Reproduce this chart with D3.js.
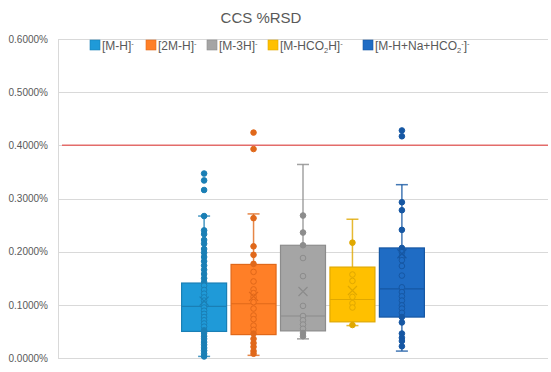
<!DOCTYPE html>
<html>
<head>
<meta charset="utf-8">
<script src="https://cdn.jsdelivr.net/npm/d3@7"></script>
<style>
  body { margin: 0; background: #fff; }
  svg text { font-family: "Liberation Sans", Arial, sans-serif; fill: #595959; }
</style>
</head>
<body>
<div id="vis"></div>
<script>
(function(){
  // values are in percent (0.1 = 0.1000%)
  var categories = ["1"];
  var seriesNames = ["M-H", "2M-H", "M-3H", "M-HCO2H", "M-H+Na+HCO2"];
  var colors = ["#1f9ad8", "#ff7f27", "#a5a5a5", "#ffc000", "#1f6cc4"];
  var strokes = ["#1a7fb5", "#e0681a", "#8c8c8c", "#e0a800", "#1657a3"];

  var mins    = [0.003, 0.005, 0.036, 0.061, 0.013];
  var q1s     = [0.050, 0.044, 0.051, 0.068, 0.077];
  var medians = [0.097, 0.102, 0.079, 0.110, 0.130];
  var q3s     = [0.141, 0.176, 0.212, 0.171, 0.207];
  var maxs    = [0.267, 0.271, 0.364, 0.261, 0.326];
  var means   = [0.107, 0.116, 0.125, 0.127, 0.196];

  var pointsMH = [0.347, 0.334, 0.316, 0.267, 0.240, 0.233, 0.222, 0.215, 0.205, 0.198,
    0.190, 0.182, 0.174, 0.166, 0.158, 0.150, 0.143, 0.136, 0.128, 0.121, 0.114, 0.108,
    0.101, 0.095, 0.089, 0.083, 0.077, 0.071, 0.065, 0.059, 0.052, 0.047, 0.041, 0.036,
    0.030, 0.025, 0.019, 0.014, 0.008, 0.003];
  var points2MH = [0.424, 0.393, 0.263, 0.210, 0.194, 0.177, 0.162, 0.144, 0.129, 0.122,
    0.115, 0.105, 0.093, 0.080, 0.073, 0.061, 0.053, 0.046, 0.036, 0.028, 0.021, 0.013, 0.008];
  var pointsM3H = [0.268, 0.236, 0.212, 0.188, 0.154, 0.098, 0.079, 0.071, 0.063, 0.055,
    0.047, 0.041];
  var pointsHCO2H = [0.217, 0.157, 0.145, 0.115, 0.103, 0.095, 0.062];
  var pointsNa = [0.428, 0.417, 0.293, 0.278, 0.241, 0.207, 0.199, 0.191, 0.184, 0.173,
    0.155, 0.133, 0.124, 0.116, 0.108, 0.099, 0.093, 0.085, 0.077, 0.067, 0.046, 0.038,
    0.032, 0.022];
  var allPoints = [pointsMH, points2MH, pointsM3H, pointsHCO2H, pointsNa];

  var yTicks = [0, 0.1, 0.2, 0.3, 0.4, 0.5, 0.6];
  var limitValue = 0.4;
  var title = "CCS %RSD";

  var width = 551, height = 372;
  var margin = { top: 39, left: 58, bottom: 14, right: 3 };

  var svg = d3.select("#vis").append("svg")
    .attr("width", width)
    .attr("height", height);

  var plotW = width - margin.left - margin.right;
  var plotH = height - margin.top - margin.bottom;

  var g = svg.append("g")
    .attr("transform", "translate(" + margin.left + "," + margin.top + ")");

  var y = d3.scaleLinear().domain([0, 0.6]).range([plotH, 0]);
  var x0 = d3.scaleBand().domain(categories).range([0, plotW]);
  var x1 = d3.scaleBand().domain(seriesNames)
    .range([x0(categories[0]), x0(categories[0]) + x0.bandwidth()])
    .paddingInner(0.09).paddingOuter(2.5);

  // gridlines
  g.append("g").selectAll("line").data(yTicks).enter().append("line")
    .attr("x1", 0).attr("x2", plotW)
    .attr("y1", function(d){ return Math.round(y(d)) + 0.5; })
    .attr("y2", function(d){ return Math.round(y(d)) + 0.5; })
    .attr("stroke", "#d9d9d9").attr("stroke-width", 1);

  g.append("line")
    .attr("x1", 0.5).attr("x2", 0.5).attr("y1", 0).attr("y2", plotH)
    .attr("stroke", "#d9d9d9");

  var yAxis = d3.axisLeft(y).tickValues(yTicks).tickSize(0).tickPadding(10)
    .tickFormat(function(d){ return d.toFixed(4) + "%"; });
  var ya = g.append("g").attr("class", "y axis").call(yAxis);
  ya.select(".domain").remove();
  ya.selectAll("text")
    .style("font-family", "'Liberation Sans Narrow', 'Liberation Sans', sans-serif")
    .style("font-size", "10px").attr("fill", "#595959");

  // limit line
  g.append("line")
    .attr("x1", 4).attr("x2", plotW)
    .attr("y1", y(limitValue)).attr("y2", y(limitValue))
    .attr("stroke", "#e36c6a").attr("stroke-width", 1.5);

  var capW = 12;
  seriesNames.forEach(function(s, i){
    var bx = x1(s), bw = x1.bandwidth(), cx = bx + bw / 2;
    var sg = g.append("g").attr("class", "series");

    // whiskers
    sg.append("line").attr("x1", cx).attr("x2", cx)
      .attr("y1", y(q3s[i])).attr("y2", y(maxs[i]))
      .attr("stroke", strokes[i]).attr("stroke-width", 1.5).attr("opacity", 0.8);
    sg.append("line").attr("x1", cx).attr("x2", cx)
      .attr("y1", y(q1s[i])).attr("y2", y(mins[i]))
      .attr("stroke", strokes[i]).attr("stroke-width", 1.5).attr("opacity", 0.8);
    [mins[i], maxs[i]].forEach(function(v){
      sg.append("line").attr("x1", cx - capW / 2).attr("x2", cx + capW / 2)
        .attr("y1", y(v)).attr("y2", y(v))
        .attr("stroke", strokes[i]).attr("stroke-width", 1.5).attr("opacity", 0.8);
    });

    // box
    sg.append("rect")
      .attr("x", bx).attr("width", bw)
      .attr("y", y(q3s[i])).attr("height", y(q1s[i]) - y(q3s[i]))
      .attr("fill", colors[i]).attr("stroke", strokes[i]).attr("stroke-width", 1.2);
    sg.append("line").attr("x1", bx).attr("x2", bx + bw)
      .attr("y1", y(medians[i])).attr("y2", y(medians[i]))
      .attr("stroke", strokes[i]).attr("stroke-width", 1.2);

    // points
    sg.selectAll("circle").data(allPoints[i]).enter().append("circle")
      .attr("cx", cx).attr("cy", function(d){ return y(d); })
      .attr("r", 2.8)
      .attr("fill", function(d){ return (d > q1s[i] + 0.004 && d < q3s[i] - 0.004) ? colors[i] : strokes[i]; })
      .attr("stroke", strokes[i]).attr("stroke-width", 1);

    // mean marker
    var my = y(means[i]), m = 4.5;
    sg.append("path")
      .attr("d", "M" + (cx - m) + "," + (my - m) + "L" + (cx + m) + "," + (my + m) +
                 "M" + (cx - m) + "," + (my + m) + "L" + (cx + m) + "," + (my - m))
      .attr("stroke", strokes[i]).attr("stroke-width", 1.2).attr("fill", "none");
  });

  // title
  svg.append("text")
    .attr("x", 261).attr("y", 23)
    .attr("text-anchor", "middle")
    .style("font-size", "15px")
    .attr("fill", "#666")
    .text(title);

  // legend
  var legendX = [90, 146, 207, 268, 363];
  var legend = svg.append("g").attr("class", "legend");
  seriesNames.forEach(function(s, i){
    var lg = legend.append("g").attr("transform", "translate(" + legendX[i] + ",40)");
    lg.append("rect").attr("width", 10).attr("height", 10)
      .attr("fill", colors[i]).attr("stroke", strokes[i]).attr("stroke-width", 0.6);
    var t = lg.append("text").attr("x", 12).attr("y", 9.5).style("font-size", "12px");
    var parts;
    if (s === "M-HCO2H") parts = [["[M-HCO", ""], ["2", "sub"], ["H]", ""], ["-", "sup"]];
    else if (s === "M-H+Na+HCO2") parts = [["[M-H+Na+HCO", ""], ["2", "sub"], ["-", "sup"], ["]", ""], ["-", "sup"]];
    else parts = [["[" + s + "]", ""], ["-", "sup"]];
    var offset = 0;
    parts.forEach(function(p){
      var ts = t.append("tspan").text(p[0]);
      var target = 0;
      if (p[1] === "sub") { ts.style("font-size", "7.5px"); target = 3; }
      else if (p[1] === "sup") { ts.style("font-size", "7.5px"); target = -4; }
      ts.attr("dy", target - offset);
      offset = target;
    });
  });
})();
</script>
</body>
</html>
